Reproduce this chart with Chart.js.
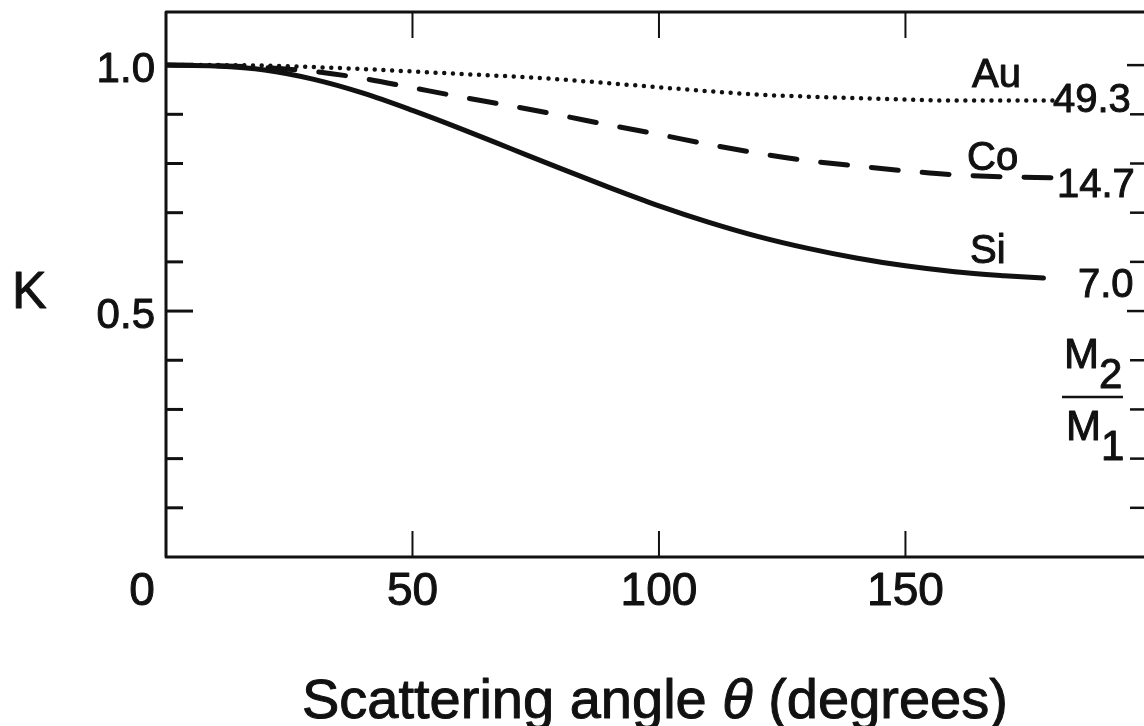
<!DOCTYPE html>
<html>
<head>
<meta charset="utf-8">
<script src="https://cdn.jsdelivr.net/npm/chart.js@4.4.1/dist/chart.umd.min.js"></script>
<style>
  html, body { margin: 0; padding: 0; background: #fff; overflow: hidden; }
  #chart { display: block; }
</style>
</head>
<body>
<canvas id="chart" width="1150" height="726"></canvas>
<script>
// scattering angle (degrees) and kinematic factor K
const angles = [0, 10, 20, 30, 40, 50, 60, 70, 80, 90, 100, 110, 120, 130, 140, 150, 160, 170, 180];
const siAngles = [0, 10, 20, 30, 40, 50, 60, 70, 80, 90, 100, 110, 120, 130, 140, 150, 160, 170, 178];
const kAu = [1.0, 1.0, 0.999, 0.996, 0.992, 0.987, 0.982, 0.977, 0.971, 0.963, 0.955, 0.947, 0.940, 0.936, 0.933, 0.930, 0.928, 0.928, 0.928];
const kCo = [1.0, 0.999, 0.995, 0.987, 0.973, 0.954, 0.935, 0.917, 0.898, 0.878, 0.859, 0.839, 0.821, 0.806, 0.795, 0.785, 0.777, 0.773, 0.771];
const kSi = [1.0, 0.998, 0.990, 0.971, 0.943, 0.908, 0.870, 0.830, 0.790, 0.751, 0.714, 0.681, 0.652, 0.628, 0.608, 0.592, 0.580, 0.572, 0.567];

const xTicks = [0, 50, 100, 150];
const yTicks = [0.1, 0.2, 0.3, 0.4, 0.5, 0.6, 0.7, 0.8, 0.9, 1.0];
const yTickLabels = ['0.5', '1.0'];
const targets = ['Au', 'Co', 'Si'];
const massRatios = ['49.3', '14.7', '7.0'];

const INK = '#111';
const FONT = '"Liberation Sans", Arial, Helvetica, sans-serif';

const toXY = (xs, ys) => xs.map((x, i) => ({ x: x, y: ys[i] }));

// scanned lettering is a bit heavier than the plain face
function ink(ctx, text, x, y) {
  ctx.fillText(text, x, y);
  ctx.lineWidth = 1;
  ctx.strokeText(text, x, y);
}

const frame = {
  id: 'frame',
  afterDatasetsDraw(chart) {
    const { ctx, chartArea: a, scales: { x, y } } = chart;
    ctx.save();
    ctx.strokeStyle = INK;
    ctx.fillStyle = INK;
    ctx.lineCap = 'butt';
    ctx.lineJoin = 'round';

    const seg = (x1, y1, x2, y2, w) => {
      ctx.lineWidth = w;
      ctx.beginPath();
      ctx.moveTo(x1, y1);
      ctx.lineTo(x2, y2);
      ctx.stroke();
    };

    // box
    ctx.lineWidth = 3;
    ctx.strokeRect(a.left, a.top, a.right - a.left, a.bottom - a.top);

    // y ticks, left and right, pointing inwards
    yTicks.forEach(v => {
      const py = y.getPixelForValue(v);
      const major = yTickLabels.includes(v.toFixed(1));
      seg(a.left, py, a.left + (major ? 27 : 17), py, 3);
      seg(a.right, py, a.right - (major ? 20 : 17), py, 2.5);
    });
    // x ticks, top and bottom
    xTicks.forEach(v => {
      if (v === 0) return;
      const px = x.getPixelForValue(v);
      seg(px, a.top, px, a.top + 26, 2);
      seg(px, a.bottom, px, a.bottom - 26, 2);
    });

    // tick labels
    ctx.textBaseline = 'alphabetic';
    ctx.font = '46px ' + FONT;
    ctx.textAlign = 'center';
    xTicks.forEach(v => {
      const px = v === 0 ? a.left - 24 : x.getPixelForValue(v);
      ink(ctx, String(v), px, a.bottom + 48);
    });
    ctx.font = '42px ' + FONT;
    ctx.textAlign = 'right';
    yTickLabels.forEach(t => {
      ink(ctx, t, a.left - 11, y.getPixelForValue(parseFloat(t)) + 17);
    });

    // axis titles
    ctx.textAlign = 'left';
    ctx.font = '52px ' + FONT;
    ink(ctx, 'K', 12, 308);

    ctx.font = '56px ' + FONT;
    let tx = 302;
    const ty = 718;
    const part1 = 'Scattering angle ';
    ink(ctx, part1, tx, ty);
    tx += ctx.measureText(part1).width;
    ctx.font = 'italic 56px ' + FONT;
    ink(ctx, '\u03b8', tx, ty);
    tx += ctx.measureText('\u03b8').width;
    ctx.font = '56px ' + FONT;
    ink(ctx, ' (degrees)', tx, ty);

    // curve labels
    ctx.font = '40px ' + FONT;
    const nameSpots = [[972, 87], [967, 170], [970, 263]];
    const ratioSpots = [[1053, 112], [1057, 197], [1078, 297]];
    targets.forEach((t, i) => ink(ctx, t, nameSpots[i][0], nameSpots[i][1]));
    massRatios.forEach((t, i) => ink(ctx, t, ratioSpots[i][0], ratioSpots[i][1]));

    // M2 / M1
    ctx.font = '42px ' + FONT;
    ink(ctx, 'M', 1064, 368);
    ink(ctx, '2', 1099, 388);
    ink(ctx, 'M', 1066, 440);
    ink(ctx, '1', 1101, 460);
    seg(1062, 397, 1123, 397, 2.5);

    ctx.restore();
  }
};

const ctx = document.getElementById('chart');

const chart = new Chart(ctx, {
  type: 'line',
  data: {
    datasets: [
      {
        label: 'Au',
        data: toXY(angles, kAu),
        borderColor: INK,
        borderWidth: 4.5,
        borderDash: [0, 8.7],
        borderCapStyle: 'round',
        pointRadius: 0,
        cubicInterpolationMode: 'monotone',
      },
      {
        label: 'Co',
        data: toXY(angles, kCo),
        borderColor: INK,
        borderWidth: 5,
        borderDash: [27, 24],
        borderCapStyle: 'round',
        pointRadius: 0,
        cubicInterpolationMode: 'monotone',
      },
      {
        label: 'Si',
        data: toXY(siAngles, kSi),
        borderColor: INK,
        borderWidth: 5,
        borderCapStyle: 'round',
        pointRadius: 0,
        cubicInterpolationMode: 'monotone',
      },
    ],
  },
  options: {
    responsive: false,
    animation: false,
    devicePixelRatio: 1,
    layout: {
      padding: { left: 166, top: 12, right: 3, bottom: 169 },
    },
    plugins: {
      legend: { display: false },
      tooltip: { enabled: false },
    },
    scales: {
      x: { type: 'linear', min: 0, max: 199, display: false },
      y: { type: 'linear', min: 0, max: 1.108, display: false },
    },
  },
  plugins: [frame],
});
</script>
</body>
</html>
